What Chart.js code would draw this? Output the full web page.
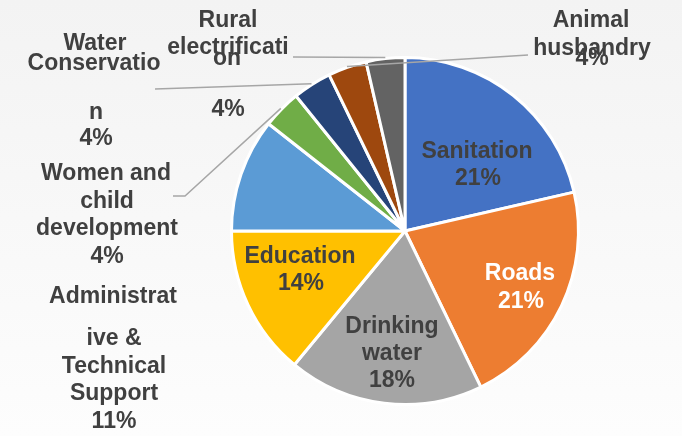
<!DOCTYPE html>
<html>
<head>
<meta charset="utf-8">
<script src="https://cdn.jsdelivr.net/npm/chart.js@4.4.1/dist/chart.umd.min.js"></script>
<style>
    html, body { margin: 0; padding: 0; }
    body { width: 682px; height: 436px; overflow: hidden; background: linear-gradient(#f3f3f3, #fdfdfd); }
</style>
</head>
<body>
<canvas id="grafico" width="682" height="436"></canvas>
<script>
// dados do gráfico
const categorias = ['Sanitation', 'Roads', 'Drinking water', 'Education', 'Administrative & Technical Support',
    'Women and child development', 'Water Conservation', 'Rural electrification', 'Animal husbandry'];
const valores = [21.4, 21.4, 18.2, 14.0, 10.6, 3.6, 3.6, 3.6, 3.6];
const cores = ['#4472C4', '#ED7D31', '#A5A5A5', '#FFC000', '#5B9BD5', '#70AD47', '#264478', '#9E480E', '#636363'];

// rótulos como aparecem no original (quebrados em linhas); {p} = percentual
const rotulos = [
    [['Sanitation', 477, 158], ['{p}', 478, 185]],
    [['Roads', 520, 280], ['{p}', 521, 308]],
    [['Drinking', 392, 333], ['water', 392, 360], ['{p}', 392, 387]],
    [['Education', 300, 263], ['{p}', 301, 290]],
    [['Administrat', 113, 303], ['ive &', 114, 345], ['Technical', 114, 373], ['Support', 114, 400], ['{p}', 114, 428]],
    [['Women and', 106, 180], ['child', 107, 208], ['development', 107, 235], ['{p}', 107, 263]],
    [['Water', 95, 50], ['Conservatio', 94, 70], ['n', 96, 119], ['{p}', 96, 145]],
    [['Rural', 228, 27], ['electrificati', 228, 54], ['on', 227, 65], ['{p}', 228, 116]],
    [['Animal', 591, 27], ['husbandry', 592, 55], ['{p}', 592, 65]]
];
const corTexto = ['#404040', '#ffffff', '#404040', '#404040', '#404040', '#404040', '#404040', '#404040', '#404040'];

// linhas de chamada: pontos do lado do rótulo + fatia onde termina
const chamadas = [
    { pts: [[528, 55]], fatia: 7 },
    { pts: [[293, 57]], fatia: 8 },
    { pts: [[155, 89]], fatia: 6 },
    { pts: [[173, 196], [185, 196]], fatia: 5 }
];

const pluginRotulos = {
    id: 'rotulos',
    afterDatasetsDraw(chart) {
        const ctx = chart.ctx;
        const arcs = chart.getDatasetMeta(0).data;
        ctx.save();
        // linhas de chamada
        ctx.strokeStyle = '#A6A6A6';
        ctx.lineWidth = 1.5;
        chamadas.forEach(c => {
            const a = arcs[c.fatia];
            const meio = (a.startAngle + a.endAngle) / 2;
            const r = a.outerRadius + 1;
            ctx.beginPath();
            ctx.moveTo(c.pts[0][0], c.pts[0][1]);
            c.pts.slice(1).forEach(p => ctx.lineTo(p[0], p[1]));
            ctx.lineTo(a.x + Math.cos(meio) * r, a.y + Math.sin(meio) * r);
            ctx.stroke();
        });
        // textos
        ctx.font = 'bold 23px "Liberation Sans", Arial, sans-serif';
        ctx.textAlign = 'center';
        ctx.textBaseline = 'alphabetic';
        rotulos.forEach((linhas, i) => {
            ctx.fillStyle = corTexto[i];
            const pct = Math.round(valores[i]) + '%';
            linhas.forEach(l => {
                ctx.fillText(l[0].replace('{p}', pct), l[1], l[2]);
            });
        });
        ctx.restore();
    }
};

const data = {
    labels: categorias,
    datasets: [{
        data: valores,
        backgroundColor: cores,
        borderColor: '#ffffff',
        borderWidth: 3,
        hoverOffset: 0
    }]
};

const config = {
    type: 'pie',
    data: data,
    options: {
        responsive: false,
        animation: false,
        events: [],
        layout: {
            padding: { left: 230, right: 102, top: 56, bottom: 30 }
        },
        plugins: {
            legend: { display: false },
            tooltip: { enabled: false }
        }
    },
    plugins: [pluginRotulos]
};

const ctx = document.getElementById('grafico').getContext('2d');
const myChart = new Chart(ctx, config);
</script>
</body>
</html>
